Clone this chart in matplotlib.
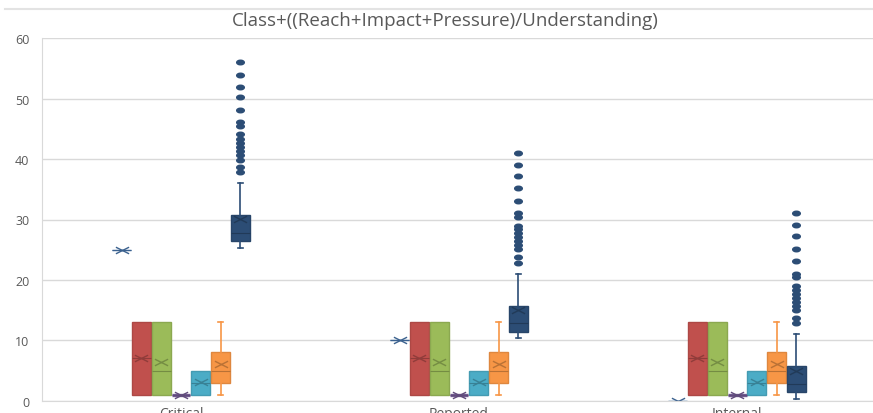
import matplotlib
matplotlib.use('Agg')
import matplotlib.pyplot as plt
import matplotlib.path as mpath
import matplotlib.colors as mcolors
from matplotlib.lines import Line2D
import numpy as np

plt.rcParams['font.family'] = ['Open Sans', 'DejaVu Sans']

groups = ['Critical', 'Reported', 'Internal']
series = ['s1', 's2', 's3', 's4', 's5', 's6', 's7']
colours = ['#4F81BD', '#C0504D', '#9BBB59', '#8064A2', '#4BACC6', '#F79646', '#2C4D75']

# box stats per series, one value per group (Critical, Reported, Internal)
whislo = [[25, 10, 0], [1, 1, 1], [1, 1, 1], [1, 1, 1], [1, 1, 1], [1, 1, 1], [25.3, 10.3, 0.3]]
q1 = [[25, 10, 0], [1, 1, 1], [1, 1, 1], [1, 1, 1], [1, 1, 1], [3, 3, 3], [26.4, 11.4, 1.4]]
med = [[25, 10, 0], [7, 7, 7], [5, 5, 5], [1, 1, 1], [3, 3, 3], [5, 5, 5], [27.8, 12.8, 2.8]]
q3 = [[25, 10, 0], [13, 13, 13], [13, 13, 13], [1, 1, 1], [5, 5, 5], [8, 8, 8], [30.8, 15.7, 5.7]]
whishi = [[25, 10, 0], [13, 13, 13], [13, 13, 13], [1, 1, 1], [5, 5, 5], [13, 13, 13], [36, 21, 11]]
means = [[25, 10, 0], [7, 7, 7], [6.4, 6.4, 6.4], [1, 1, 1], [3.1, 3.1, 3.1], [6, 6, 6], [30.1, 15, 5]]

fliers_critical = [56, 54, 52, 50.2, 48.1, 46.1, 45.4, 44.1, 43.4, 42.7, 42, 41.3, 40.7, 39.9, 38.7, 37.9]
fliers_reported = [41, 39.1, 37.2, 35.2, 33.1, 31.1, 30.4, 29, 28.4, 27.8, 27.1, 26.4, 25.7, 25.1, 23.8, 22.8]
fliers_internal = [31.1, 29.1, 27.2, 25.1, 23.1, 21, 20.4, 19, 18.4, 17.7, 17, 16.4, 15.7, 15, 13.7, 12.8]
navy_fliers = [fliers_critical, fliers_reported, fliers_internal]


def darker(c, f=0.75):
    r, g, b = mcolors.to_rgb(c)
    return (r * f, g * f, b * f)


# flattened X for the mean, flat dot for outliers
x_mark = mpath.Path([(-1, -0.5), (1, 0.5), (-1, 0.5), (1, -0.5)],
                    [mpath.Path.MOVETO, mpath.Path.LINETO, mpath.Path.MOVETO, mpath.Path.LINETO])
circ = mpath.Path.unit_circle()
dot = mpath.Path(circ.vertices * np.array([1.0, 0.6]), circ.codes)

fig = plt.figure(figsize=(8.73, 4.14), dpi=100)
ax = fig.add_axes([42 / 873, 12.3 / 414, 831 / 873, 362.4 / 414])

step = 0.0712
width = 0.068
for i, col in enumerate(colours):
    stats = []
    for g in range(len(groups)):
        stats.append({
            'whislo': whislo[i][g], 'q1': q1[i][g], 'med': med[i][g], 'q3': q3[i][g],
            'whishi': whishi[i][g], 'mean': means[i][g],
            'fliers': navy_fliers[g] if i == 6 else [],
        })
    pos = [g + (i - 3) * step for g in range(len(groups))]
    lw = 2.4 if i == 3 else 1.0
    dk = darker(col)
    # caps only show where the whiskers reach past the box
    cap_lw = 1.2 if i in (5, 6) else 0
    ax.bxp(stats, positions=pos, widths=width, capwidths=0.02, patch_artist=True,
           showmeans=True,
           boxprops=dict(facecolor=col, edgecolor=darker(col, 0.9), linewidth=lw),
           medianprops=dict(color=dk, linewidth=0.8),
           whiskerprops=dict(color=col, linewidth=1.2),
           capprops=dict(color=col, linewidth=cap_lw),
           meanprops=dict(marker=x_mark, markersize=9.5, markeredgecolor=dk,
                          markerfacecolor='none', markeredgewidth=1.0),
           flierprops=dict(marker=dot, markersize=5.5, markerfacecolor=col,
                           markeredgecolor=col, linestyle='none'))

ax.set_xlim(-0.5, 2.489)
ax.set_ylim(0, 60)
ax.set_yticks(range(0, 61, 10))
ax.set_xticks(range(len(groups)))
ax.set_xticklabels(groups)
ax.tick_params(axis='both', length=0, colors='#595959', labelsize=9)
ax.tick_params(axis='y', pad=9)
ax.tick_params(axis='x', pad=4, labelsize=10)
ax.yaxis.grid(True, color='#D9D9D9', linewidth=1)
ax.set_axisbelow(True)
for s in ['top', 'right']:
    ax.spines[s].set_visible(False)
for s in ['left', 'bottom']:
    ax.spines[s].set_color('#D9D9D9')

fig.text(0.51, 1 - 21 / 414, 'Class+((Reach+Impact+Pressure)/Understanding)',
         ha='center', va='center', fontsize=13.5, color='#595959')
fig.add_artist(Line2D([0.006, 1], [1 - 10 / 414] * 2, color='#E3E3E3', linewidth=1.5))

fig.savefig('out.png', dpi=100)
